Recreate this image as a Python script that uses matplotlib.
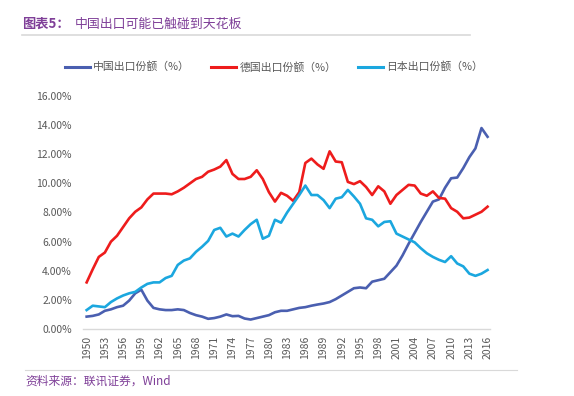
"""China / Germany / Japan export share, 1950-2016."""
import matplotlib

matplotlib.use("Agg")
import matplotlib.pyplot as plt
from matplotlib.lines import Line2D

plt.rcParams["font.family"] = ["Noto Sans CJK SC", "DejaVu Sans"]

YEARS = list(range(1950, 2017))

CHINA = [
    0.85, 0.9, 1.0, 1.25, 1.35, 1.5, 1.6, 1.95, 2.45, 2.7,
    1.95, 1.45, 1.35, 1.3, 1.3, 1.35, 1.3, 1.1, 0.95, 0.85,
    0.7, 0.75, 0.85, 1.0, 0.88, 0.9, 0.72, 0.65, 0.75, 0.85,
    0.95, 1.15, 1.25, 1.25, 1.35, 1.45, 1.5, 1.6, 1.68, 1.75,
    1.85, 2.05, 2.3, 2.55, 2.8, 2.85, 2.8, 3.25, 3.35, 3.45,
    3.9, 4.35, 5.05, 5.85, 6.6, 7.35, 8.05, 8.75, 8.9, 9.7,
    10.35, 10.4, 11.05, 11.8, 12.4, 13.8, 13.2,
]
GERMANY = [
    3.2, 4.1, 4.95, 5.25, 6.0, 6.4, 7.0, 7.6, 8.05, 8.35,
    8.9, 9.3, 9.3, 9.3, 9.25, 9.45, 9.7, 10.0, 10.3, 10.45,
    10.8, 10.95, 11.15, 11.6, 10.65, 10.3, 10.3, 10.45, 10.9, 10.3,
    9.4, 8.75, 9.35, 9.15, 8.8, 9.4, 11.4, 11.7, 11.3, 11.0,
    12.2, 11.5, 11.45, 10.1, 9.95, 10.15, 9.75, 9.2, 9.8, 9.45,
    8.6, 9.2, 9.55, 9.9, 9.85, 9.3, 9.15, 9.45, 9.0, 8.95,
    8.3, 8.05, 7.6, 7.65, 7.85, 8.05, 8.4,
]
JAPAN = [
    1.3, 1.6, 1.55, 1.5, 1.85, 2.1, 2.3, 2.45, 2.55, 2.85,
    3.1, 3.2, 3.2, 3.5, 3.65, 4.4, 4.7, 4.85, 5.3, 5.65,
    6.05, 6.8, 6.95, 6.35, 6.55, 6.35, 6.8, 7.2, 7.5, 6.2,
    6.4, 7.5, 7.3, 8.0, 8.6, 9.2, 9.85, 9.2, 9.2, 8.85,
    8.3, 8.95, 9.05, 9.55, 9.1, 8.6, 7.6, 7.5, 7.05, 7.35,
    7.4, 6.55, 6.35, 6.15, 5.95, 5.55, 5.2, 4.95, 4.75, 4.6,
    5.0, 4.5, 4.3, 3.8, 3.65, 3.8, 4.05,
]
LABELS = ["中国出口份额（%）", "德国出口份额（%）", "日本出口份额（%）"]
COLORS = ["#4A5FB0", "#EE1C1C", "#1BA7DF"]

PURPLE = "#7F3F98"
GRAY = "#595959"

fig = plt.figure(figsize=(5.74, 3.96), dpi=100)
ax = fig.add_axes([83 / 574, 1 - 329 / 396, (490 - 83) / 574, (329 - 96) / 396])

for series, color in zip([CHINA, GERMANY, JAPAN], COLORS):
    ax.plot(YEARS, series, color=color, linewidth=1.9, solid_joinstyle="round")

ax.set_xlim(1949.4, 2016.4)
ax.set_ylim(0, 16)
ax.set_yticks(range(0, 17, 2))
ax.set_yticklabels([f"{v:.2f}%" for v in range(0, 17, 2)])
ax.set_xticks(YEARS[::3])
ax.set_xticklabels([str(y) for y in YEARS[::3]], rotation=90)
ax.tick_params(axis="both", length=0, labelsize=7.5, colors=GRAY)
ax.tick_params(axis="y", pad=8)
ax.tick_params(axis="x", pad=5)
for side in ["top", "right", "left"]:
    ax.spines[side].set_visible(False)
ax.spines["bottom"].set_color("#D9D9D9")
ax.spines["bottom"].set_linewidth(1.0)

# legend row
handles = [Line2D([], [], color=c, linewidth=2.2) for c in COLORS]
fig.legend(handles, LABELS, loc="center left", bbox_to_anchor=(55 / 574, 1 - 67 / 396),
           ncol=3, frameon=False, fontsize=7.8, labelcolor=GRAY, handlelength=2.3,
           handletextpad=0.3, columnspacing=2.0)

# title and separators
fig.text(22 / 574, 1 - 24 / 396, "图表5：", color=PURPLE, fontsize=9.5, fontweight="bold", va="center")
fig.text(75 / 574, 1 - 24 / 396, "中国出口可能已触碰到天花板", color=PURPLE, fontsize=9.3,
         fontweight="medium", va="center")
fig.add_artist(Line2D([22 / 574, 470 / 574], [1 - 35 / 396] * 2, color="#D9D9D9", linewidth=1.2))
fig.add_artist(Line2D([25 / 574, 517 / 574], [1 - 370 / 396] * 2, color="#D9D9D9", linewidth=0.8))
fig.text(25 / 574, 1 - 381 / 396, "资料来源：联讯证券，Wind", color=PURPLE, fontsize=8.5,
         style="italic", va="center")

fig.savefig("out.png", dpi=100, facecolor="white")
